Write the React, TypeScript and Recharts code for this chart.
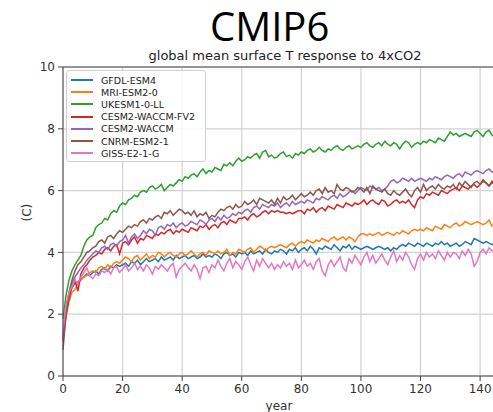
import React from 'react';
import {
  LineChart,
  Line,
  XAxis,
  YAxis,
  CartesianGrid,
  ReferenceLine,
} from 'recharts';

// annual global-mean surface T anomaly (C) after abrupt 4xCO2, years 0..145
const gfdl = [
  1.3, 2.2, 2.6, 2.85, 3.0, 3.05, 3.15, 3.2, 3.3, 3.25,
  3.35, 3.4, 3.3, 3.45, 3.5, 3.4, 3.55, 3.5, 3.6, 3.55,
  3.6, 3.65, 3.55, 3.7, 3.65, 3.75, 3.6, 3.7, 3.8, 3.7,
  3.75, 3.8, 3.7, 3.85, 3.75, 3.8, 3.85, 3.75, 3.9, 3.8,
  3.85, 3.9, 3.8, 3.85, 3.9, 3.8, 3.85, 3.95, 3.85, 3.9,
  3.85, 3.95, 3.9, 3.8, 3.95, 4.0, 3.9, 3.95, 3.85, 4.0,
  3.95, 4.0, 3.9, 4.05, 3.95, 4.0, 4.05, 3.95, 4.1, 4.0,
  3.95, 4.05, 4.0, 4.1, 4.05, 3.95, 4.1, 4.05, 4.15, 4.0,
  4.1, 4.15, 4.05, 4.2, 4.1, 3.95, 4.15, 4.1, 4.2, 4.15,
  4.1, 4.25, 4.15, 4.05, 4.2, 4.15, 4.25, 4.1, 4.2, 4.15,
  4.1, 4.15, 4.2, 4.15, 4.1, 4.15, 4.2, 4.15, 4.1, 4.15,
  4.05, 4.15, 4.1, 4.2, 4.25, 4.2, 4.3, 4.25, 4.2, 4.3,
  4.25, 4.2, 4.3, 4.25, 4.2, 4.3, 4.25, 4.35, 4.25, 4.3,
  4.2, 4.25, 4.3, 4.2, 4.25, 4.35, 4.3, 4.25, 4.45, 4.4,
  4.35, 4.3, 4.35, 4.3, 4.25, 4.3,
];

const mri = [
  1.2, 1.9, 2.4, 2.7, 2.8, 3.0, 3.1, 3.2, 3.25, 3.35,
  3.4, 3.35, 3.5, 3.55, 3.45, 3.6, 3.5, 3.65, 3.7, 3.65,
  3.75, 3.85, 3.8, 3.7, 3.85, 3.9, 3.75, 3.85, 3.95, 3.8,
  3.9, 3.85, 4.0, 3.95, 3.85, 3.95, 4.0, 3.9, 3.85, 3.95,
  4.0, 3.9, 3.95, 4.05, 3.95, 3.85, 3.95, 4.0, 3.9, 4.05,
  4.0, 3.95, 4.05, 3.95, 4.0, 4.1, 3.9, 4.0, 3.95, 4.1,
  4.05, 4.0, 4.1, 4.15, 4.0, 4.1, 4.2, 4.15, 4.05, 4.15,
  4.2, 4.15, 4.2, 4.25, 4.2, 4.15, 4.25, 4.3, 4.2, 4.3,
  4.35, 4.3, 4.4, 4.35, 4.3, 4.4, 4.35, 4.45, 4.4, 4.35,
  4.45, 4.5, 4.4, 4.45, 4.5, 4.4, 4.5, 4.45, 4.35, 4.5,
  4.6, 4.6, 4.55, 4.6, 4.55, 4.6, 4.65, 4.55, 4.6, 4.65,
  4.6, 4.55, 4.65, 4.6, 4.7, 4.65, 4.6, 4.7, 4.75, 4.7,
  4.75, 4.7, 4.8, 4.75, 4.7, 4.85, 4.8, 4.75, 4.9, 4.85,
  4.8, 4.9, 4.95, 4.85, 4.9, 5.0, 4.95, 4.9, 4.95, 5.0,
  4.95, 4.9, 4.95, 5.05, 4.85, 4.95,
];

const ukesm = [
  1.85, 2.6, 3.1, 3.4, 3.6, 3.75, 3.9, 4.2, 4.4, 4.5,
  4.55, 4.8, 4.9, 4.95, 5.1, 5.05, 5.25, 5.35, 5.3, 5.5,
  5.6, 5.55, 5.7, 5.75, 5.85, 5.8, 5.95, 6.0, 5.95, 6.1,
  6.15, 6.05, 6.1, 6.2, 6.0, 6.1, 6.2, 6.15, 6.25, 6.35,
  6.3, 6.45, 6.4, 6.5, 6.55, 6.45, 6.6, 6.7, 6.55, 6.65,
  6.6, 6.75, 6.7, 6.65, 6.85, 6.8, 6.9, 6.8, 6.95, 7.05,
  6.95, 7.0, 7.1, 7.05, 7.15, 7.2, 7.05, 7.25, 7.3, 7.1,
  7.15, 7.05, 7.1, 7.2, 7.25, 7.1, 7.15, 7.05, 7.2, 7.15,
  7.25, 7.2, 7.3, 7.35, 7.25, 7.3, 7.4, 7.3, 7.25, 7.35,
  7.3, 7.4, 7.45, 7.35, 7.3, 7.4, 7.45, 7.35, 7.4, 7.45,
  7.4, 7.5, 7.55, 7.45, 7.4, 7.5, 7.55, 7.45, 7.6, 7.5,
  7.45, 7.55, 7.5, 7.35, 7.5, 7.6, 7.55, 7.4, 7.5, 7.55,
  7.5, 7.6, 7.55, 7.65, 7.6, 7.55, 7.7, 7.65, 7.6, 7.75,
  7.9, 7.8, 7.85, 7.75, 7.8, 7.85, 7.8, 7.75, 7.9, 7.95,
  7.85, 7.75, 7.9, 7.95, 7.8, 7.7,
];

const cesmFv2 = [
  1.15, 2.0, 2.5, 2.9, 3.1, 2.75, 3.3, 3.5, 3.6, 3.75,
  3.85, 3.9, 4.0, 3.95, 4.1, 4.15, 4.05, 4.2, 4.25, 3.95,
  4.3, 4.35, 4.25, 4.4, 4.5, 4.3, 4.45, 4.4, 4.55, 4.5,
  4.45, 4.6, 4.55, 4.65, 4.6, 4.7, 4.75, 4.6, 4.7, 4.65,
  4.75, 4.7, 4.65, 4.8, 4.75, 4.7, 4.85, 4.8, 4.9, 4.75,
  4.85, 4.9, 4.8, 4.95, 5.0, 4.9, 5.05, 5.0, 4.95, 5.1,
  5.1, 5.15, 5.05, 5.2, 5.25, 5.15, 5.2, 5.3, 5.35, 5.25,
  5.35, 5.3, 5.35, 5.3, 5.3, 5.25, 5.3, 5.25, 5.3, 5.35,
  5.35, 5.25, 5.4, 5.35, 5.45, 5.3, 5.4, 5.45, 5.35, 5.5,
  5.45, 5.4, 5.55, 5.5, 5.45, 5.6, 5.55, 5.5, 5.6, 5.55,
  5.6, 5.7, 5.55, 5.65, 5.7, 5.6, 5.55, 5.7, 5.65, 5.5,
  5.55, 5.65, 5.7, 5.6, 5.65, 5.6, 5.7, 5.55, 5.45, 5.7,
  5.8, 5.75, 5.9, 5.85, 5.95, 5.9, 5.85, 6.0, 5.95, 5.9,
  6.0, 6.05, 6.1, 6.0, 6.15, 6.1, 6.05, 6.15, 6.2, 6.1,
  6.2, 6.3, 6.25, 6.15, 6.3, 6.25,
];

const cesmWaccm = [
  1.1, 2.1, 2.7, 3.0, 3.2, 3.35, 3.5, 3.6, 3.75, 3.85,
  3.95, 4.05, 4.0, 4.15, 4.2, 4.1, 4.25, 4.3, 4.2, 4.35,
  4.4, 4.55, 4.3, 4.5, 4.6, 4.45, 4.55, 4.7, 4.6, 4.75,
  4.7, 4.55, 4.8, 4.85, 4.75, 4.9, 4.85, 4.95, 4.8, 4.9,
  4.95, 4.85, 4.9, 5.0, 4.95, 4.9, 5.05, 5.0, 4.9, 5.05,
  5.1, 5.0, 5.15, 5.05, 5.2, 5.1, 5.15, 5.25, 5.2, 5.3,
  5.25, 5.35, 5.4, 5.3, 5.45, 5.5, 5.4, 5.55, 5.5, 5.45,
  5.55, 5.5, 5.6, 5.45, 5.55, 5.6, 5.5, 5.65, 5.55, 5.6,
  5.65, 5.6, 5.7, 5.65, 5.6, 5.75, 5.7, 5.8, 5.75, 5.7,
  5.8, 5.85, 5.75, 5.9, 5.8, 5.85, 5.95, 6.0, 5.9, 6.0,
  6.1, 6.05, 6.0, 6.15, 6.1, 6.05, 6.1, 6.0, 6.05, 6.15,
  6.3, 6.35, 6.25, 6.3, 6.4, 6.35, 6.3, 6.4, 6.3, 6.35,
  6.4, 6.35, 6.3, 6.4, 6.35, 6.45, 6.4, 6.35, 6.45, 6.5,
  6.45, 6.4, 6.5, 6.55, 6.45, 6.6, 6.55, 6.5, 6.6, 6.65,
  6.6, 6.55, 6.65, 6.7, 6.6, 6.65,
];

const cnrm = [
  0.85, 2.0, 2.7, 3.1, 3.4, 3.6, 3.7, 3.85, 4.0, 4.05,
  4.15, 4.2, 4.35, 4.4, 4.3, 4.5, 4.55, 4.45, 4.6, 4.7,
  4.65, 4.75, 4.85, 4.8, 4.9, 4.85, 5.0, 5.05, 4.95, 5.1,
  5.05, 5.15, 5.2, 5.1, 5.3, 5.25, 5.35, 5.2, 5.3, 5.4,
  5.35, 5.25, 5.3, 5.2, 5.35, 5.15, 5.25, 5.2, 5.3, 5.1,
  5.2, 5.15, 5.3, 5.4, 5.35, 5.45, 5.5, 5.4, 5.55, 5.45,
  5.5, 5.65, 5.55, 5.6, 5.7, 5.55, 5.75, 5.7, 5.65, 5.6,
  5.7, 5.55, 5.75, 5.6, 5.8, 5.7, 5.75, 5.85, 5.7, 5.8,
  5.9, 5.8, 5.85, 5.95, 5.85, 6.0, 6.05, 5.9, 6.1, 5.95,
  6.0, 5.9, 6.2, 6.05, 6.0, 6.1, 6.05, 5.95, 6.0, 6.1,
  6.05, 5.95, 6.1, 5.9, 6.15, 6.05, 6.0, 5.95, 6.05, 5.9,
  5.85, 6.0, 5.9, 5.85, 5.95, 6.05, 5.9, 5.8, 6.0, 6.1,
  5.95, 6.2, 6.0, 6.1, 6.15, 6.05, 6.2, 6.1, 6.05, 6.15,
  6.1, 6.2, 6.05, 6.25, 6.15, 6.3, 6.2, 6.1, 6.25, 6.3,
  6.2, 6.35, 6.25, 6.15, 6.25, 6.2,
];

const giss = [
  1.5, 2.3, 2.7, 2.9, 3.1, 3.0, 3.2, 3.35, 3.5, 3.25,
  3.15, 3.3, 3.25, 3.4, 3.35, 3.45, 3.3, 3.5, 3.55, 3.35,
  3.45, 3.6, 3.4, 3.5, 3.65, 3.45, 3.55, 3.4, 3.6, 3.5,
  3.3, 3.55, 3.45, 3.6, 3.5, 3.4, 3.55, 3.65, 3.2, 3.45,
  3.55, 3.65, 3.5, 3.4, 3.6, 3.45, 3.15, 3.5, 3.55, 3.35,
  3.6, 3.5, 3.75, 3.55, 3.4, 3.65, 3.8, 3.5, 3.7, 3.6,
  3.45, 3.7, 3.85, 3.6, 3.4, 3.75, 3.55, 3.8, 3.65, 3.5,
  3.65, 3.45, 3.6, 3.5, 3.7, 3.55, 3.65, 3.45, 3.75, 3.5,
  3.6, 3.75, 3.55, 3.65, 3.45, 3.7, 3.8, 3.4, 3.25, 3.6,
  3.75, 3.55, 3.7, 3.85, 3.5, 3.4, 3.8, 3.65, 3.9, 3.75,
  3.6, 3.85, 4.0, 3.7, 3.9, 3.65, 3.8, 3.95, 3.75, 3.6,
  3.85, 4.05, 3.7, 3.9, 3.75, 4.0, 3.85, 3.6, 3.45, 3.8,
  3.95, 3.75, 4.0, 3.85, 3.95, 3.8, 4.05, 3.9, 3.75, 4.0,
  3.85, 4.0, 3.95, 3.8, 4.05, 3.9, 4.1, 3.95, 3.55, 3.7,
  4.0, 4.1, 3.95, 4.15, 4.05, 4.1,
];

const series = [
  { key: 'GFDL-ESM4', values: gfdl, color: '#1f77b4' },
  { key: 'MRI-ESM2-0', values: mri, color: '#ff7f0e' },
  { key: 'UKESM1-0-LL', values: ukesm, color: '#2ca02c' },
  { key: 'CESM2-WACCM-FV2', values: cesmFv2, color: '#d62728' },
  { key: 'CESM2-WACCM', values: cesmWaccm, color: '#9467bd' },
  { key: 'CNRM-ESM2-1', values: cnrm, color: '#8c564b' },
  { key: 'GISS-E2-1-G', values: giss, color: '#e377c2' },
];

const xTicks = [0, 20, 40, 60, 80, 100, 120, 140];
const yTicks = [0, 2, 4, 6, 8, 10];

const rows = ukesm.map((_, i) => {
  const row: Record<string, number> = { year: i };
  series.forEach((s) => {
    if (s.values[i] !== undefined) row[s.key] = s.values[i];
  });
  return row;
});

const FONT = '"DejaVu Sans", sans-serif';

function LegendBox() {
  return (
    <div
      style={{
        position: 'absolute',
        left: 66,
        top: 70,
        border: '1px solid #d0d0d0',
        borderRadius: 3,
        background: 'rgba(255,255,255,0.85)',
        padding: '3px 6px 2px 4px',
        width: 128,
        fontFamily: FONT,
        fontSize: 9.5,
        color: '#222',
      }}
    >
      {series.map((s) => (
        <div key={s.key} style={{ display: 'flex', alignItems: 'center', height: 12.2, whiteSpace: 'nowrap' }}>
          <span style={{ display: 'inline-block', width: 22, height: 2, background: s.color, marginRight: 8 }} />
          {s.key}
        </div>
      ))}
    </div>
  );
}

export default function App() {
  return (
    <div style={{ position: 'absolute', left: 0, top: 0, width: 493, height: 412, overflow: 'hidden', background: '#fff' }}>
      <div
        style={{
          position: 'absolute',
          left: 210,
          top: 4,
          fontFamily: '"Open Sans", sans-serif',
          fontSize: 40,
          color: '#000',
          lineHeight: '44px',
        }}
      >
        CMIP6
      </div>
      <div
        style={{
          position: 'absolute',
          left: 0,
          width: 570,
          top: 49,
          textAlign: 'center',
          fontFamily: FONT,
          fontSize: 13,
          color: '#222',
          lineHeight: '14px',
        }}
      >
        global mean surface T response to 4xCO2
      </div>
      <LineChart
        width={498}
        height={412}
        data={rows}
        margin={{ top: 67, right: 3, bottom: 0, left: 33 }}
      >
        <CartesianGrid stroke="#d2d2d2" strokeWidth={1.2} />
        <XAxis
          dataKey="year"
          type="number"
          domain={[0, 145]}
          ticks={xTicks}
          height={36}
          tickSize={5}
          tickMargin={3}
          stroke="#444"
          tick={{ fontSize: 12, fill: '#333', fontFamily: FONT }}
          label={{ value: 'year', position: 'insideBottom', offset: 2, fontSize: 12, fill: '#333', fontFamily: FONT }}
        />
        <YAxis
          type="number"
          domain={[0, 10]}
          ticks={yTicks}
          width={30}
          tickSize={5}
          tickMargin={3}
          stroke="#444"
          tick={{ fontSize: 12, fill: '#333', fontFamily: FONT }}
          label={{ value: '(C)', angle: -90, position: 'insideLeft', dx: -11, fontSize: 12, fill: '#333', fontFamily: FONT }}
        />
        <ReferenceLine y={10} stroke="#444" />
        {series.map((s) => (
          <Line
            key={s.key}
            dataKey={s.key}
            stroke={s.color}
            strokeWidth={1.5}
            dot={false}
            isAnimationActive={false}
          />
        ))}
      </LineChart>
      <LegendBox />
    </div>
  );
}
